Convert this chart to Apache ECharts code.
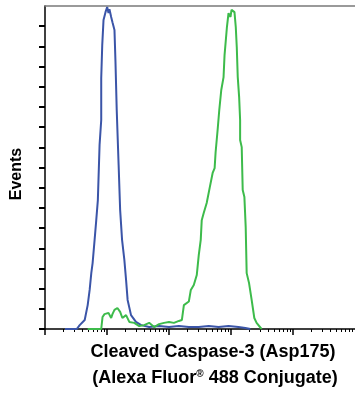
<!DOCTYPE html>
<html>
<head>
<meta charset="utf-8">
<script src="https://cdn.jsdelivr.net/npm/echarts@6/dist/echarts.min.js"></script>
<style>
  html, body { margin: 0; padding: 0; background: #fff; }
  #chart { width: 355px; height: 398px; }
</style>
</head>
<body>
<div id="chart"></div>
<script>
// fluorescence intensity (log axis) and events as % of max
const blueIntensity = [2.1, 2.25, 3.25, 3.63, 4.37, 4.88, 5.25, 5.58, 5.86, 6.31, 6.71, 7.12, 7.59, 8.07, 8.07, 8.38, 8.79, 9.46, 10.07, 10.57, 10.96, 11.67, 12.25, 13.2, 13.7, 14.35, 15.4, 16.3, 17.5, 19.05, 20.3, 21.5, 24.4, 29.3, 35.6, 47.9, 69.2, 100, 144, 209, 302, 437, 631, 912, 1318, 1706, 2051];
const blueEvents = [0, 0.6, 0, 1.2, 2.8, 7.4, 12.1, 17.3, 20.4, 27.6, 33.7, 39.9, 57, 64.7, 77.7, 87.9, 95.7, 98.1, 99.7, 97.8, 99, 96.6, 95, 92.6, 82.7, 67.8, 50.8, 36.8, 27.6, 21.4, 15.2, 9, 4.3, 2.2, 1.2, 0.6, 0.9, 0.6, 0.9, 0.6, 0.6, 0.9, 0.6, 0.9, 0.6, 0.3, 0];

const greenIntensity = [4.88, 8.07, 8.47, 9.12, 9.82, 10.57, 11.67, 12.25, 13.2, 14.72, 16.3, 17.7, 20.3, 22.9, 27.5, 33.1, 39.8, 47.9, 57.5, 69.2, 83.2, 100, 120, 144.5, 161.4, 173.8, 208.9, 224.9, 251.2, 280.5, 302, 325, 337.3, 363, 405.5, 452.9, 505.8, 544.5, 564.9, 608.1, 647.1, 696.6, 758.6, 787, 857, 912, 982, 1019, 1096, 1138, 1194, 1239, 1285, 1353, 1403, 1403, 1489, 1545, 1644, 1726, 1790, 1955, 2153, 2377, 2588, 3111];
const greenEvents = [0, 0, 3.7, 4.6, 4.0, 5.0, 3.4, 4.6, 5.9, 6.5, 5.3, 3.4, 4.3, 2.2, 1.9, 0.9, 1.2, 1.9, 0.6, 1.5, 1.9, 2.2, 1.9, 2.5, 2.8, 7.4, 8.5, 12.1, 13.6, 16.7, 22.9, 27.6, 33.7, 35.9, 39, 43.7, 48.3, 49.8, 54.8, 61.6, 67.8, 74, 78, 84.8, 93.2, 97.8, 96.6, 98.8, 99.4, 98.1, 93.5, 87.3, 78, 71.8, 64.7, 58.5, 56.3, 43, 40.9, 31.6, 17.3, 14.2, 9, 3.4, 1.9, 0];

const majorTicks = [1, 10, 100, 1000, 10000];
const minorTicks = [2, 3, 4, 5, 6, 7, 8, 9, 20, 30, 40, 50, 60, 70, 80, 90, 200, 300, 400, 500, 600, 700, 800, 900, 2000, 3000, 4000, 5000, 6000, 7000, 8000, 9000, 20000, 30000, 40000, 50000, 60000, 70000, 80000, 90000];
const eventTicks = [0, 6.25, 12.5, 18.75, 25, 31.25, 37.5, 43.75, 50, 56.25, 62.5, 68.75, 75, 81.25, 87.5, 93.75];

const zip = (xs, ys) => xs.map((x, i) => [x, ys[i]]);

const chart = echarts.init(document.getElementById('chart'));
const font = '"Liberation Sans Narrow", "Liberation Sans", Arial, sans-serif';

const logAxis = {
  type: 'log', logBase: 10, min: 1, max: 100000,
  axisLabel: { show: false }, splitLine: { show: false },
};

chart.setOption({
  animation: false,
  grid: { left: 45, right: -2.5, top: 6, bottom: 69 },
  xAxis: [
    { ...logAxis, position: 'bottom',
      axisLine: { onZero: false, lineStyle: { color: '#000', width: 1.5 } },
      axisTick: { customValues: majorTicks, length: 6, lineStyle: { color: '#000', width: 1.5 } } },
    { ...logAxis, position: 'bottom',
      axisLine: { show: false },
      axisTick: { customValues: minorTicks, length: 3, lineStyle: { color: '#000', width: 1 } } },
    { ...logAxis, position: 'top',
      axisLine: { onZero: false, lineStyle: { color: '#7a7a7a', width: 1.5 } },
      axisTick: { show: false } },
  ],
  yAxis: {
    type: 'value', min: 0, max: 100, interval: 6.25,
    axisLine: { show: true, onZero: false, lineStyle: { color: '#000', width: 1.5 } },
    axisTick: { show: true, customValues: eventTicks, length: 6, lineStyle: { color: '#000', width: 2 } },
    axisLabel: { show: false }, splitLine: { show: false },
  },
  series: [
    { type: 'line', name: 'control', data: zip(blueIntensity, blueEvents), showSymbol: false,
      lineStyle: { color: '#3b55a8', width: 2 }, itemStyle: { color: '#3b55a8' } },
    { type: 'line', name: 'treated', data: zip(greenIntensity, greenEvents), showSymbol: false,
      lineStyle: { color: '#3dbb4b', width: 2 }, itemStyle: { color: '#3dbb4b' } },
  ],
  graphic: [
    { type: 'text', x: 17, y: 174, rotation: Math.PI / 2,
      style: { text: 'Events', fontFamily: font, fontWeight: 'bold', fontSize: 16, fill: '#000',
        textAlign: 'center', textVerticalAlign: 'middle' } },
    { type: 'text', x: 213, y: 352,
      style: { text: 'Cleaved Caspase-3 (Asp175)', fontFamily: font, fontWeight: 'bold', fontSize: 18, fill: '#000',
        textAlign: 'center', textVerticalAlign: 'middle' } },
    { type: 'text', x: 215, y: 378,
      style: { text: '(Alexa Fluor{sup|®} 488 Conjugate)', fontFamily: font, fontWeight: 'bold', fontSize: 18, fill: '#000',
        textAlign: 'center', textVerticalAlign: 'middle',
        rich: { sup: { fontFamily: font, fontWeight: 'bold', fontSize: 10, verticalAlign: 'top', fill: '#000' } } } },
  ],
});
</script>
</body>
</html>
